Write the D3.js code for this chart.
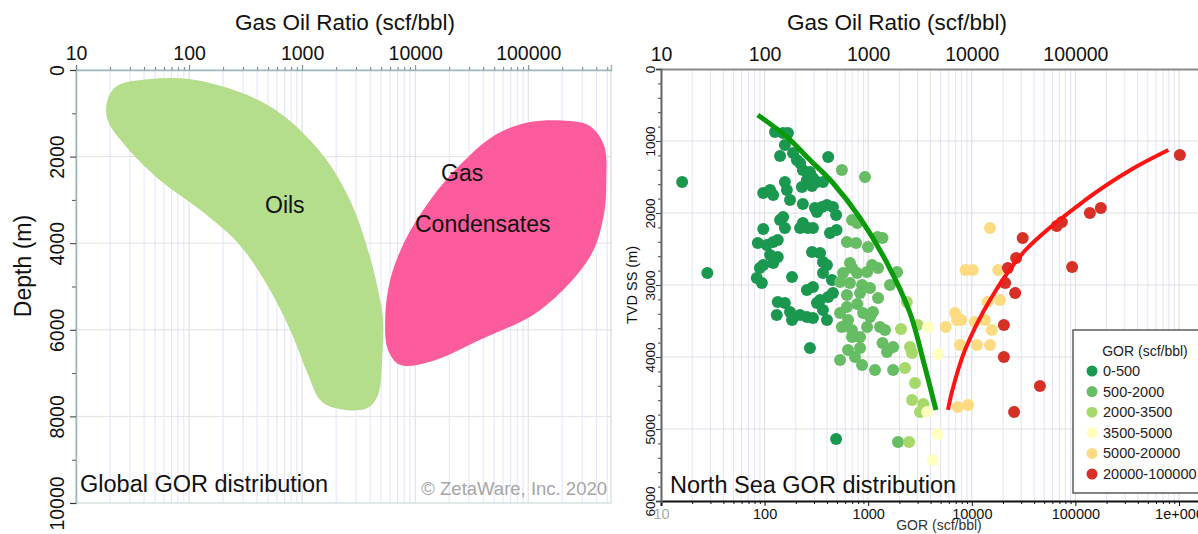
<!DOCTYPE html>
<html>
<head>
<meta charset="utf-8">
<script src="https://cdn.jsdelivr.net/npm/d3@7"></script>
<style>
body { margin: 0; background: #fff; }
svg { display: block; font-family: "Liberation Sans", Arial, sans-serif; }
</style>
</head>
<body>
<div id="chart"></div>
<script>
// ---- datos ----
var gorTicksTop = [10, 100, 1000, 10000, 100000];
var gorTicksBottom = [10, 100, 1000, 10000, 100000, 1000000];
var gorTickLabels = ["10", "100", "1000", "10000", "100000", "1e+006"];
var depthTicks = [0, 2000, 4000, 6000, 8000, 10000];
var depthMinor = [1000, 3000, 5000, 7000, 9000];
var tvdTicks = [0, 1000, 2000, 3000, 4000, 5000, 6000];

// contornos de los campos (GOR, profundidad m)
var oilsOutline = [
  [19, 690], [23, 370], [45, 210], [100, 210], [280, 510], [580, 920], [1060, 1500],
  [1770, 2190], [2770, 3120], [3830, 4160], [4700, 5080], [5200, 5770], [5100, 6700],
  [4700, 7500], [3830, 7800], [2400, 7850], [1500, 7670], [1130, 7040], [820, 6120],
  [520, 5080], [280, 4040], [125, 3230], [55, 2540], [27, 1730], [19, 1150]
];
var condensateOutline = [
  [104000, 1200], [235000, 1180], [354000, 1300], [470000, 1750], [490000, 2600],
  [470000, 3300], [354000, 4300], [128000, 5540], [37600, 6230], [13600, 6740],
  [7360, 6810], [5770, 6470], [5430, 5770], [6010, 4850], [8160, 3930], [13600, 3000],
  [25000, 2190], [51000, 1500]
];

// puntos del Mar del Norte por clase de GOR
var classNames = ["0-500", "500-2000", "2000-3500", "3500-5000", "5000-20000", "20000-100000"];
var classColors = ["#1a9850", "#66bd63", "#a6d96a", "#ffffbf", "#fddb80", "#d73027"];

var gor0to500 = [
  [16, 1570], [28, 2833], [126, 875], [151, 889], [168, 889], [157, 1056], [141, 1208],
  [188, 1167], [205, 1264], [220, 1306], [411, 1222], [234, 1403], [274, 1431], [256, 1542],
  [293, 1514], [320, 1570], [366, 1570], [229, 1639], [287, 1625], [157, 1570], [164, 1681],
  [97, 1722], [113, 1681], [121, 1750], [176, 1819], [234, 1875], [306, 1931], [358, 1917],
  [400, 1889], [457, 1917], [320, 1986], [490, 2028], [151, 2056], [141, 2097], [157, 2208],
  [97, 2222], [234, 2139], [220, 2208], [262, 2208], [293, 2208], [428, 2278], [495, 2236],
  [86, 2417], [105, 2445], [121, 2403], [134, 2375], [113, 2583], [134, 2611], [287, 2542],
  [343, 2556], [366, 2681], [400, 2722], [121, 2695], [97, 2722], [90, 2764], [84, 2903],
  [94, 2972], [184, 2889], [366, 2833], [447, 2931], [256, 3069], [293, 3028], [457, 3111],
  [411, 3167], [343, 3208], [320, 3250], [366, 3347], [134, 3236], [157, 3250], [131, 3417],
  [176, 3375], [188, 3445], [220, 3417], [256, 3445], [293, 3458], [184, 3486], [400, 3486],
  [274, 3875], [490, 5139]
];
var gor500to2000 = [
  [557, 1403], [932, 1500], [699, 2097], [783, 2139], [623, 2403], [764, 2417], [995, 2472],
  [1228, 2333], [1375, 2347], [667, 2695], [699, 2764], [573, 2833], [783, 2833], [1090, 2722],
  [1245, 2764], [975, 2820], [1900, 2820], [535, 2958], [667, 2972], [873, 3000], [1041, 3042],
  [1623, 3000], [623, 3139], [834, 3111], [783, 3264], [535, 3389], [639, 3486], [557, 3583],
  [697, 3625], [893, 3389], [1041, 3445], [1112, 3375], [975, 3583], [1300, 3583], [1453, 3625],
  [699, 3722], [834, 3722], [1375, 3806], [1740, 3861], [1520, 3931], [639, 3903], [834, 3875],
  [746, 4000], [535, 4042], [873, 4111], [1163, 4181], [1740, 4181], [1940, 5181], [623, 3306],
  [1245, 3181]
];
var gor2000to3500 = [
  [2360, 3236], [2070, 3611], [3000, 3556], [2532, 3861], [2650, 3944], [2266, 4153],
  [2830, 4361], [2650, 4597], [2480, 5181], [3400, 4653], [3162, 4764]
];
var gor3500to5000 = [[3780, 3583], [4750, 3958], [4650, 5070], [4200, 5431], [3700, 4764]];
var gor5000to20000 = [
  [5600, 3583], [6884, 3389], [7200, 3486], [8700, 2792], [10200, 2792], [15000, 2208],
  [18000, 2792], [18700, 3208], [7900, 3486], [10700, 3514], [13400, 3486], [15600, 3625],
  [7690, 3833], [11200, 3833], [15000, 3833], [9200, 4667], [7300, 4694], [14200, 3236]
];
var gor20000to100000 = [
  [1020000, 1194], [176000, 1931], [138000, 2000], [74000, 2125], [66000, 2181], [31000, 2347],
  [26800, 2625], [22300, 2764], [21000, 2972], [93000, 2750], [26200, 3111], [20400, 3556],
  [20400, 4000], [45500, 4403], [25600, 4764]
];

// tendencias
var greenTrend = [[86, 639], [164, 944], [274, 1264], [457, 1583], [834, 2069], [1518, 2694],
  [2532, 3389], [3390, 4042], [4510, 4736]];
var redTrend = [[5890, 4736], [6500, 4458], [8600, 3903], [15000, 3208], [33000, 2514],
  [125000, 1819], [340000, 1403], [790000, 1125]];

// ---- svg ----
var svg = d3.select("#chart").append("svg").attr("width", 1198).attr("height", 534);

function minorTicks(scale) {
  var dom = scale.domain(), out = [];
  for (var p = 1; p <= 6; p++) {
    for (var m = 2; m < 10; m++) {
      var v = m * Math.pow(10, p);
      if (v > dom[0] && v < dom[1]) out.push(v);
    }
  }
  return out;
}

function styleAxis(g, color, size) {
  g.attr("font-family", "Liberation Sans, Arial, sans-serif").attr("font-size", size);
  g.selectAll(".tick line").attr("stroke", color);
  g.selectAll(".tick text").attr("fill", "#111");
}

// ================= panel izquierdo =================
var xL = d3.scaleLog().domain([10, 540000]).range([76, 611]);
var yL = d3.scaleLinear().domain([0, 10000]).range([70, 503]);

var left = svg.append("g");
var minorL = minorTicks(xL);

// rejilla
left.append("g").selectAll("line").data(minorL).enter().append("line")
  .attr("x1", d => xL(d)).attr("x2", d => xL(d)).attr("y1", yL(0)).attr("y2", yL(10000))
  .attr("stroke", "#e3e3fa").attr("stroke-width", 1);
left.append("g").selectAll("line").data(gorTicksTop).enter().append("line")
  .attr("x1", d => xL(d)).attr("x2", d => xL(d)).attr("y1", yL(0)).attr("y2", yL(10000))
  .attr("stroke", "#dcdcdc").attr("stroke-width", 1);
left.append("g").selectAll("line").data(depthTicks.slice(1, -1)).enter().append("line")
  .attr("x1", 76).attr("x2", 611).attr("y1", d => yL(d)).attr("y2", d => yL(d))
  .attr("stroke", "#e2e2e2").attr("stroke-width", 1);

// campos
left.append("clipPath").attr("id", "clipL").append("rect")
  .attr("x", 76).attr("y", 70).attr("width", 535).attr("height", 433);
var blob = d3.line().x(d => xL(d[0])).y(d => yL(d[1])).curve(d3.curveCatmullRomClosed.alpha(0.5));
left.append("path").attr("d", blob(oilsOutline)).attr("fill", "#b5de8c").attr("clip-path", "url(#clipL)");
left.append("path").attr("d", blob(condensateOutline)).attr("fill", "#fd5c9c").attr("clip-path", "url(#clipL)");

left.append("text").attr("x", 265).attr("y", yL(3120) + 8)
  .attr("font-size", 23).attr("fill", "#111").text("Oils");
left.append("text").attr("x", 441).attr("y", yL(2380) + 8)
  .attr("font-size", 23).attr("fill", "#111").text("Gas");
left.append("text").attr("x", 415).attr("y", yL(3550) + 8)
  .attr("font-size", 23).attr("fill", "#111").text("Condensates");

// marco
left.append("rect").attr("x", 76).attr("y", 70).attr("width", 535).attr("height", 433)
  .attr("fill", "none").attr("stroke", "#c4d2d2").attr("stroke-width", 1);

// ejes
var topMinorL = left.append("g").attr("transform", "translate(0,70)")
  .call(d3.axisTop(xL).tickValues(minorL).tickSize(3).tickFormat(""));
topMinorL.select(".domain").remove();
styleAxis(topMinorL, "#6f8585", 19.5);
var topL = left.append("g").attr("transform", "translate(0,70)")
  .call(d3.axisTop(xL).tickValues(gorTicksTop).tickSize(5).tickPadding(5).tickFormat(d3.format("d")));
topL.select(".domain").attr("stroke", "#9fb6b6").attr("stroke-width", 1.5);
styleAxis(topL, "#6f8585", 19.5);

var leftMinorL = left.append("g").attr("transform", "translate(76,0)")
  .call(d3.axisLeft(yL).tickValues(depthMinor).tickSize(4).tickFormat(""));
leftMinorL.select(".domain").remove();
styleAxis(leftMinorL, "#555", 19.5);
var leftL = left.append("g").attr("transform", "translate(76,0)")
  .call(d3.axisLeft(yL).tickValues(depthTicks).tickSize(6).tickFormat(d3.format("d")));
leftL.select(".domain").attr("stroke", "#9fb6b6").attr("stroke-width", 1.5);
styleAxis(leftL, "#333", 19.5);
leftL.selectAll(".tick text").attr("transform", "rotate(-90)")
  .attr("x", 0).attr("y", -12).attr("dy", 0).attr("text-anchor", "middle");

left.append("text").attr("x", 345).attr("y", 30).attr("text-anchor", "middle")
  .attr("font-size", 22.5).attr("fill", "#111").text("Gas Oil Ratio (scf/bbl)");
left.append("text").attr("transform", "translate(31,266) rotate(-90)").attr("text-anchor", "middle")
  .attr("font-size", 23).attr("fill", "#111").text("Depth (m)");
left.append("text").attr("x", 80).attr("y", 492).attr("font-size", 23.5).attr("fill", "#111")
  .text("Global GOR distribution");
left.append("text").attr("x", 607).attr("y", 495).attr("text-anchor", "end").attr("font-size", 18.5)
  .attr("fill", "#a6a6a6").text("\u00a9 ZetaWare, Inc. 2020");

// ================= panel derecho =================
var xR = d3.scaleLog().domain([10, Math.pow(10, 6.2)]).range([661, 1199.7]);
var yR = d3.scaleLinear().domain([0, 6000]).range([69, 501]);
var right = svg.append("g");
var minorR = minorTicks(xR);

right.append("g").selectAll("line").data(minorR).enter().append("line")
  .attr("x1", d => xR(d)).attr("x2", d => xR(d)).attr("y1", yR(0)).attr("y2", yR(6000))
  .attr("stroke", "#e3e3fa").attr("stroke-width", 1);
right.append("g").selectAll("line").data(gorTicksBottom).enter().append("line")
  .attr("x1", d => xR(d)).attr("x2", d => xR(d)).attr("y1", yR(0)).attr("y2", yR(6000))
  .attr("stroke", "#dcdcdc").attr("stroke-width", 1);
right.append("g").selectAll("line").data(tvdTicks.slice(1, -1)).enter().append("line")
  .attr("x1", 661).attr("x2", 1198).attr("y1", d => yR(d)).attr("y2", d => yR(d))
  .attr("stroke", "#e0e0e0").attr("stroke-width", 1.2);

right.append("clipPath").attr("id", "clipR").append("rect")
  .attr("x", 661).attr("y", 69).attr("width", 540).attr("height", 432);
var plotR = right.append("g").attr("clip-path", "url(#clipR)");

var groups = [gor0to500, gor500to2000, gor2000to3500, gor3500to5000, gor5000to20000, gor20000to100000];
groups.forEach(function (pts, i) {
  plotR.append("g").selectAll("circle").data(pts).enter().append("circle")
    .attr("cx", d => xR(d[0])).attr("cy", d => yR(d[1])).attr("r", 6)
    .attr("fill", classColors[i]);
});

var trend = d3.line().x(d => xR(d[0])).y(d => yR(d[1])).curve(d3.curveCatmullRom.alpha(0.5));
plotR.append("path").attr("d", trend(greenTrend)).attr("fill", "none")
  .attr("stroke", "#0a9a0a").attr("stroke-width", 5);
plotR.append("path").attr("d", trend(redTrend)).attr("fill", "none")
  .attr("stroke", "#ff1414").attr("stroke-width", 4);

// ejes derecha
var topR = right.append("g").attr("transform", "translate(0,69)")
  .call(d3.axisTop(xR).tickValues(gorTicksTop).tickSize(0).tickPadding(8).tickFormat(d3.format("d")));
topR.select(".domain").attr("stroke", "#8a8a8a").attr("stroke-width", 2);
styleAxis(topR, "#888", 19.5);

var botMinorR = right.append("g").attr("transform", "translate(0,501)")
  .call(d3.axisBottom(xR).tickValues(minorR).tickSize(3).tickFormat(""));
botMinorR.select(".domain").remove();
styleAxis(botMinorR, "#111", 14);
var botR = right.append("g").attr("transform", "translate(0,501)")
  .call(d3.axisBottom(xR).tickValues(gorTicksBottom).tickSize(5).tickPadding(3)
    .tickFormat((d, i) => gorTickLabels[i]));
botR.select(".domain").attr("stroke", "#111").attr("stroke-width", 2);
styleAxis(botR, "#111", 14.5);
botR.selectAll(".tick text").filter(d => d === 10).attr("fill", "#aaa");

var tvdMinor = d3.range(200, 6000, 200).filter(d => d % 1000 !== 0);
var leftMinorR = right.append("g").attr("transform", "translate(661,0)")
  .call(d3.axisLeft(yR).tickValues(tvdMinor).tickSize(3).tickFormat(""));
leftMinorR.select(".domain").remove();
styleAxis(leftMinorR, "#444", 13);
var leftR = right.append("g").attr("transform", "translate(661,0)")
  .call(d3.axisLeft(yR).tickValues(tvdTicks).tickSize(5).tickFormat(d3.format("d")));
leftR.select(".domain").attr("stroke", "#666").attr("stroke-width", 2);
styleAxis(leftR, "#444", 13.5);
leftR.selectAll(".tick text").attr("transform", "rotate(-90)")
  .attr("x", 0).attr("y", -6).attr("dy", 0).attr("text-anchor", "middle");

right.append("text").attr("x", 897).attr("y", 30).attr("text-anchor", "middle")
  .attr("font-size", 22.5).attr("fill", "#111").text("Gas Oil Ratio (scf/bbl)");
right.append("text").attr("transform", "translate(637,285) rotate(-90)").attr("text-anchor", "middle")
  .attr("font-size", 14.5).attr("fill", "#111").text("TVD SS (m)");
right.append("text").attr("x", 939).attr("y", 530).attr("text-anchor", "middle")
  .attr("font-size", 14).attr("fill", "#333").text("GOR (scf/bbl)");
right.append("text").attr("x", 670).attr("y", 493).attr("font-size", 23.5).attr("fill", "#111")
  .text("North Sea GOR distribution");

// leyenda
var legend = right.append("g").attr("transform", "translate(1073,330)");
legend.append("rect").attr("width", 140).attr("height", 163)
  .attr("fill", "#fff").attr("stroke", "#333").attr("stroke-width", 1.2);
legend.append("text").attr("x", 72).attr("y", 26).attr("text-anchor", "middle")
  .attr("font-size", 14).attr("fill", "#222").text("GOR (scf/bbl)");
var items = legend.selectAll(".item").data(classNames).enter().append("g")
  .attr("class", "item").attr("transform", (d, i) => "translate(0," + (41 + i * 20.6) + ")");
items.append("circle").attr("cx", 19).attr("cy", 0).attr("r", 5.5).attr("fill", (d, i) => classColors[i]);
items.append("text").attr("x", 30).attr("y", 5).attr("font-size", 14.5).attr("fill", "#222").text(d => d);
</script>
</body>
</html>
